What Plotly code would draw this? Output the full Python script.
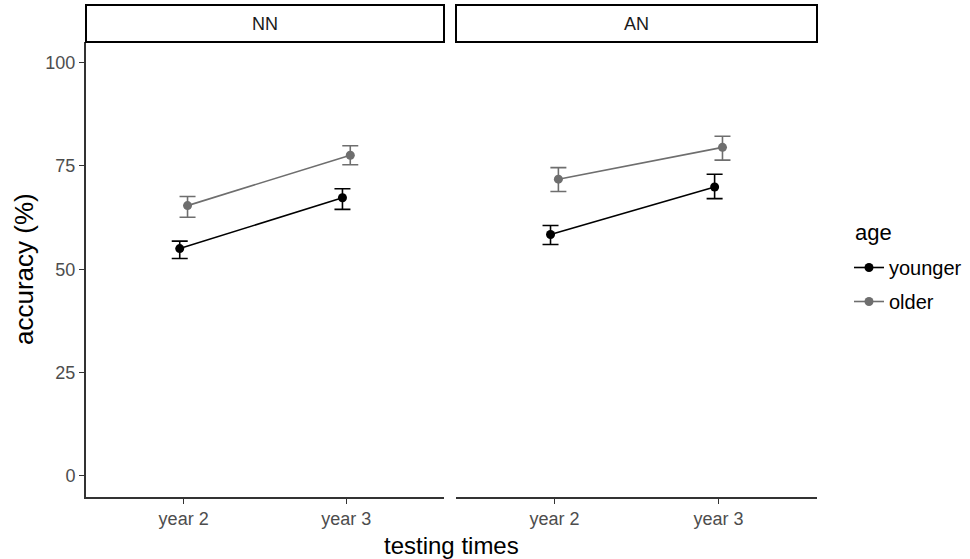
import plotly.graph_objects as go

# ---- data ----
panels = ["NN", "AN"]
times = ["year 2", "year 3"]
groups = ["younger", "older"]

nn_younger = [55.0, 67.3]
nn_younger_lo = [52.6, 64.5]
nn_younger_hi = [56.8, 69.5]
nn_older = [65.4, 77.6]
nn_older_lo = [62.6, 75.3]
nn_older_hi = [67.6, 79.9]

an_younger = [58.4, 69.9]
an_younger_lo = [56.0, 67.1]
an_younger_hi = [60.6, 73.0]
an_older = [71.8, 79.5]
an_older_lo = [68.8, 76.4]
an_older_hi = [74.6, 82.2]

y_ticks = [0, 25, 50, 75, 100]

data = {
    "NN": {"younger": (nn_younger, nn_younger_lo, nn_younger_hi),
           "older": (nn_older, nn_older_lo, nn_older_hi)},
    "AN": {"younger": (an_younger, an_younger_lo, an_younger_hi),
           "older": (an_older, an_older_lo, an_older_hi)},
}

colors = {"younger": "#000000", "older": "#6e6e6e"}
dodge = {"younger": -0.024, "older": 0.024}

W, H = 970, 559
fig = go.Figure()

xdomains = [[86 / W, 444 / W], [456 / W, 817 / W]]
ydomain = [1 - 496.5 / H, 1 - 42 / H]
font = "Liberation Sans, Arial, sans-serif"

for pi, panel in enumerate(panels):
    xa = "x" if pi == 0 else "x2"
    ya = "y" if pi == 0 else "y2"
    for g in groups:
        mean, lo, hi = data[panel][g]
        xs = [i + 1 + dodge[g] for i in range(len(times))]
        fig.add_trace(go.Scatter(
            x=xs, y=mean, mode="lines+markers", name=g,
            legendgroup=g, showlegend=(pi == 0),
            line=dict(color=colors[g], width=1.6),
            marker=dict(color=colors[g], size=9),
            error_y=dict(type="data", symmetric=False,
                         array=[h - m for h, m in zip(hi, mean)],
                         arrayminus=[m - l for m, l in zip(mean, lo)],
                         color=colors[g], thickness=1.6, width=8),
            xaxis=xa, yaxis=ya,
        ))

axis_common = dict(showgrid=False, zeroline=False, showline=True,
                   linecolor="#333333", linewidth=2, ticks="outside",
                   ticklen=5, tickwidth=1.3, tickcolor="#333333",
                   tickfont=dict(family=font, size=18, color="#4d4d4d"))

fig.update_layout(
    width=W, height=H,
    margin=dict(l=0, r=0, t=0, b=0),
    paper_bgcolor="white", plot_bgcolor="white",
    xaxis=dict(domain=xdomains[0], range=[0.4, 2.6], tickvals=[1, 2],
               ticktext=times, anchor="y", **axis_common),
    xaxis2=dict(domain=xdomains[1], range=[0.4, 2.6], tickvals=[1, 2],
                ticktext=times, anchor="y2", **axis_common),
    yaxis=dict(domain=ydomain, range=[-5, 105], tickvals=y_ticks,
               anchor="x", **axis_common),
    yaxis2=dict(domain=ydomain, range=[-5, 105], anchor="x2",
                showgrid=False, zeroline=False, showline=False,
                showticklabels=False, ticks=""),
    legend=dict(x=849 / W, y=1 - 248 / H, xanchor="left", yanchor="top",
                font=dict(family=font, size=20, color="#000000"),
                tracegroupgap=5, itemwidth=30, bgcolor="rgba(0,0,0,0)"),
    showlegend=True,
)

# strips
for pi, panel in enumerate(panels):
    x0, x1 = xdomains[pi]
    fig.add_shape(type="rect", xref="paper", yref="paper",
                  x0=x0, x1=x1, y0=1 - 42 / H, y1=1 - 5 / H,
                  line=dict(color="#000000", width=2), fillcolor="white")
    fig.add_annotation(x=(x0 + x1) / 2, y=1 - 24 / H, xref="paper", yref="paper",
                       text=panel, showarrow=False, xanchor="center", yanchor="middle",
                       font=dict(family=font, size=18, color="#1a1a1a"))

fig.add_annotation(x=(86 + 817) / 2 / W, y=1 - 545 / H, xref="paper", yref="paper",
                   text="testing times", showarrow=False, xanchor="center", yanchor="middle",
                   font=dict(family=font, size=24, color="#000000"))

fig.add_annotation(x=24 / W, y=1 - 269 / H, xref="paper", yref="paper",
                   text="accuracy (%)", showarrow=False, textangle=-90,
                   xanchor="center", yanchor="middle",
                   font=dict(family=font, size=26, color="#000000"))

fig.add_annotation(x=853 / W, y=1 - 232 / H, xref="paper", yref="paper",
                   text="age", showarrow=False, xanchor="left", yanchor="middle",
                   font=dict(family=font, size=22, color="#000000"))

fig.write_html("out.html")
